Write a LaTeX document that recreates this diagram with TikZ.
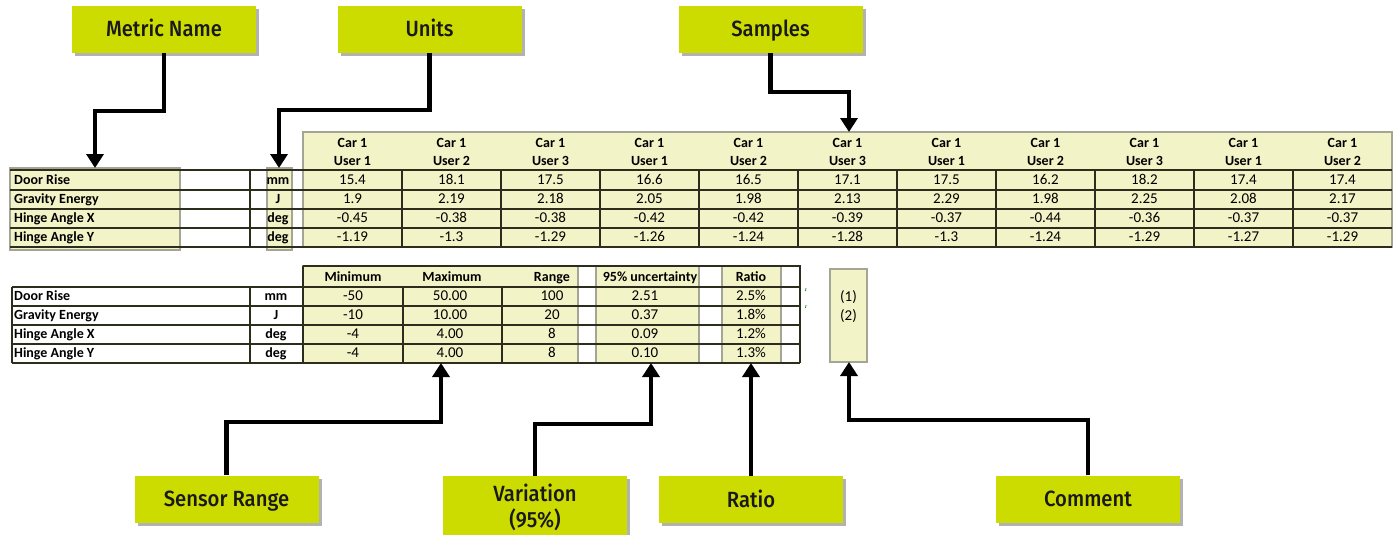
\documentclass[tikz,border=0pt]{standalone}
\usepackage{fontspec}
\setmainfont{Carlito}
\newfontfamily\tagfont{Fira Sans}[UprightFont=* Medium,FakeStretch=0.92]
\usetikzlibrary{arrows.meta,shadows}
\definecolor{tagc}{RGB}{205,220,0}
\definecolor{hlc}{RGB}{243,243,200}
\definecolor{gridc}{RGB}{45,45,30}
\definecolor{edgec}{RGB}{165,165,150}
\definecolor{tickc}{RGB}{30,140,40}

\begin{document}
\begin{tikzpicture}[x=1pt,y=-1pt]
\tikzstyle{tag}=[fill=tagc,minimum width=184pt,minimum height=47pt,inner sep=0pt,text=black!90,text height=15pt,text depth=0pt,font=\tagfont\fontsize{22}{26}\selectfont,drop shadow={shadow xshift=3pt,shadow yshift=-3pt,fill=black,opacity=0.3}]
\tikzstyle{hl}=[fill=hlc,draw=edgec,line width=1.5pt,inner sep=0pt,outer sep=0pt,anchor=north west]
\tikzstyle{arr}=[line width=4.5pt,-{Triangle[width=17pt,length=14pt]}]
\tikzstyle{tline}=[gridc,line width=1.1pt]
\tikzstyle{txt}=[inner sep=0pt,text height=10pt,text depth=2pt,font=\fontsize{15}{16}\selectfont]
\tikzstyle{head}=[txt,font=\fontsize{14}{16}\selectfont\bfseries]
\fill[white] (0,0) rectangle (1400,535);
\useasboundingbox (0,0) rectangle (1400,535);

% upper table: samples
\node[hl,minimum width=170pt,minimum height=82pt] (namebox) at (10,168) {};
\node[hl,minimum width=25pt,minimum height=82pt] (unitbox) at (267,168) {};
\node[hl,minimum width=1089pt,minimum height=115pt] (samplebox) at (303,132) {};
\foreach \y in {170,190,209,228} \draw[tline] (10,\y) -- (1392,\y);
\draw[tline,line width=2pt] (10,247) -- (1392,247);
\draw[tline] (250,170) -- (250,247);
\foreach \i in {1,...,10} \draw[tline] ({303+99*\i},170) -- ({303+99*\i},247);
\foreach \u [count=\i from 0] in {1,2,3,1,2,3,1,2,3,1,2} {
  \node[head] (car\i) at ({352.5+99*\i},143) {Car 1};
  \node[head] (user\i) at ({352.5+99*\i},161) {User \u};
}
\foreach \vals [count=\r from 0] in {
  {15.4,18.1,17.5,16.6,16.5,17.1,17.5,16.2,18.2,17.4,17.4},
  {1.9,2.19,2.18,2.05,1.98,2.13,2.29,1.98,2.25,2.08,2.17},
  {-0.45,-0.38,-0.38,-0.42,-0.42,-0.39,-0.37,-0.44,-0.36,-0.37,-0.37},
  {-1.19,-1.3,-1.29,-1.26,-1.24,-1.28,-1.3,-1.24,-1.29,-1.27,-1.29}} {
  \foreach \v [count=\i from 0] in \vals
    \node[txt] (s\r-\i) at ({352.5+99*\i},{180+19.2*\r}) {\v};
}

% lower table: range, uncertainty, ratio
\node[hl,minimum width=275pt,minimum height=97pt] (rangebox) at (303,266) {};
\node[hl,minimum width=103pt,minimum height=97pt] (uncbox) at (596,266) {};
\node[hl,minimum width=59pt,minimum height=97pt] (ratiobox) at (722,266) {};
\node[hl,minimum width=37pt,minimum height=93pt] (notebox) at (830,269) {};
\foreach \y in {287,306,325,344,363} \draw[tline] (12,\y) -- (800,\y);
\draw[tline,line width=2pt] (303,266) -- (800,266) -- (800,363);
\foreach \x in {12,250,403,502} \draw[tline] (\x,287) -- (\x,363);
\draw[tline] (303,266) -- (303,363);
\node[head] (hmin) at (353,277) {Minimum};
\node[head] (hmax) at (452,277) {Maximum};
\node[head,anchor=east] (hrange) at (570,277) {Range};
\node[head] (hunc) at (650,277) {95\% uncertainty};
\node[head] (hratio) at (751,277) {Ratio};
\foreach \a/\b/\c/\d/\e [count=\r from 0] in {-50/50.00/100/2.51/2.5\%, -10/10.00/20/0.37/1.8\%, -4/4.00/8/0.09/1.2\%, -4/4.00/8/0.10/1.3\%} {
  \node[txt] (min\r) at (353,{296.5+19*\r}) {\a};
  \node[txt] (max\r) at (450,{296.5+19*\r}) {\b};
  \node[txt] (rng\r) at (552,{296.5+19*\r}) {\c};
  \node[txt] (unc\r) at (645,{296.5+19*\r}) {\d};
  \node[txt] (rat\r) at (751,{296.5+19*\r}) {\e};
}
\node[txt] (note1) at (848.5,297) {(1)};
\node[txt] (note2) at (848.5,316) {(2)};
\draw[tickc,line width=0.8pt] (806,288) -- (805.5,291);
\draw[tickc,line width=0.8pt] (806,305) -- (805.5,308);

% metric names and units, both tables
\foreach \name/\unit [count=\r from 0] in {Door Rise/mm,Gravity Energy/J,Hinge Angle X/deg,Hinge Angle Y/deg} {
  \node[head,anchor=west] (tname\r) at (14,{180+19.2*\r}) {\name};
  \node[head] (tunit\r) at (278,{180+19.2*\r}) {\unit};
  \node[head,anchor=west] (bname\r) at (14,{296.5+19*\r}) {\name};
  \node[head] (bunit\r) at (276,{296.5+19*\r}) {\unit};
}

% callouts
\node[tag] (metric) at (164,29.5) {Metric Name};
\node[tag] (units) at (429.5,29.5) {Units};
\node[tag] (samples) at (770.5,29.5) {Samples};
\node[tag] (sensor) at (226.5,499) {Sensor Range};
\node[tag,align=center,text height=,text depth=,minimum height=62pt,anchor=north] (variation) at (535,476) {Variation\\(95\%)};
\node[tag] (ratio) at (751,499.5) {Ratio};
\node[tag] (comment) at (1088,499) {Comment};

\coordinate (mbend) at (95,111);
\coordinate (ubend) at (279,110);
\coordinate (pbend) at (849,92);
\coordinate (sbend) at (441,422);
\coordinate (vbend) at (651,424);
\coordinate (cbend) at (849,420);
\draw[arr] (metric.south) |- (mbend) -- (mbend |- namebox.north);
\draw[arr] (units.south) |- (ubend) -- (ubend |- unitbox.north);
\draw[arr] (samples.south) |- (pbend) -- (pbend |- samplebox.north);
\draw[arr] (sensor.north) |- (sbend) -- (sbend |- rangebox.south);
\draw[arr] (variation.north) |- (vbend) -- (vbend |- uncbox.south);
\draw[arr] (ratio.north) -- (ratio.north |- ratiobox.south);
\draw[arr] (comment.north) |- (cbend) -- (cbend |- notebox.south);
\end{tikzpicture}
\end{document}
